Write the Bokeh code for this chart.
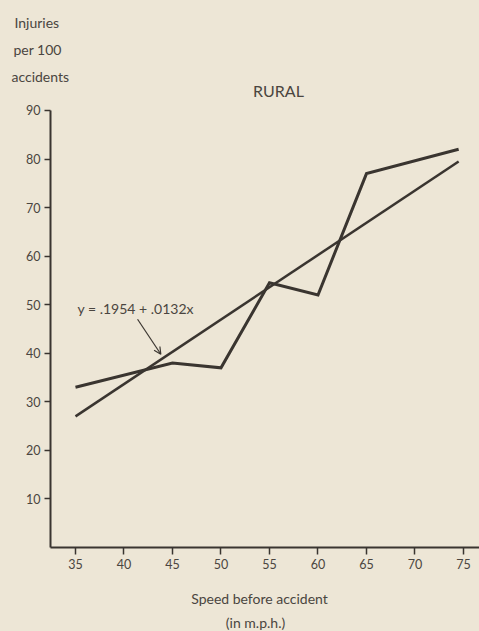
from bokeh.plotting import figure
from bokeh.models import Range1d, FixedTicker, Label, Arrow, OpenHead
from bokeh.embed import file_html
from bokeh.resources import INLINE

# ---- data ----
speed_obs = [35, 45, 50, 55, 60, 65, 74.5]
injuries_obs = [33, 38, 37, 54.5, 52, 77, 82]
speed_fit = [35, 74.5]
injuries_fit = [27, 79.5]
x_ticks = [35, 40, 45, 50, 55, 60, 65, 70, 75]
y_ticks = [10, 20, 30, 40, 50, 60, 70, 80, 90]
title_text = "RURAL"
equation_text = "y = .1954 + .0132x"
y_label_lines = ["Injuries", "per 100", "accidents"]
x_label_lines = ["Speed before accident", "(in m.p.h.)"]

BG = "#ede6d6"
INK = "#3a3530"
TXT = "#4a4540"
FONT = "Lato"
W, H = 479, 631

X0, X1 = 32.42, 76.65   # extent of the horizontal axis
Y0, Y1 = 0, 90          # extent of the vertical axis

p = figure(width=W, height=H, output_backend="svg", toolbar_location=None,
           x_range=Range1d(27.27, 76.65), y_range=Range1d(-17.30, 112.64),
           min_border=0)
p.background_fill_color = BG
p.border_fill_color = BG
p.outline_line_color = None
p.grid.visible = False

xa, ya = p.xaxis[0], p.yaxis[0]
for ax in (xa, ya):
    ax.axis_line_color = INK
    ax.axis_line_width = 2
    ax.major_tick_line_color = INK
    ax.major_tick_line_width = 1.5
    ax.minor_tick_line_color = None
    ax.major_tick_in = 0
    ax.major_label_text_font = FONT
    ax.major_label_text_font_size = "12.5px"
    ax.major_label_text_color = TXT

xa.ticker = FixedTicker(ticks=x_ticks)
ya.ticker = FixedTicker(ticks=y_ticks)
xa.fixed_location = Y0
ya.fixed_location = X0
xa.bounds = (X0, X1)
ya.bounds = (Y0, Y1)
xa.major_tick_out = 7
ya.major_tick_out = 6
xa.major_label_standoff = 5
ya.major_label_standoff = 4

p.line(speed_fit, injuries_fit, line_color=INK, line_width=2.5)
p.line(speed_obs, injuries_obs, line_color=INK, line_width=3, line_join="miter")

p.add_layout(Arrow(x_start=41.4, y_start=47.0, x_end=43.8, y_end=39.8,
                   line_color=INK, line_width=1.2,
                   end=OpenHead(size=7, line_color=INK, line_width=1.2)))

def lab(x, y, t, size, align="left", base="alphabetic"):
    p.add_layout(Label(x=x, y=y, text=t, text_font=FONT, text_font_size=size,
                       text_color=TXT, text_align=align, text_baseline=base))

lab(35.21, 49.22, equation_text, "14px")
lab(55.93, 94.11, title_text, "16px", align="center")
for t, xx, yy in zip(y_label_lines, [28.71, 28.61, 28.40], [108.11, 102.55, 96.99]):
    lab(xx, yy, t, "14px")
lab(53.97, -10.50, x_label_lines[0], "14px", align="center", base="middle")
lab(53.56, -15.45, x_label_lines[1], "14px", align="center", base="middle")

html = file_html(p, INLINE)
html = html.replace("</head>", "<style>html,body{background:%s;}</style></head>" % BG, 1)
open("out.html", "w").write(html)
